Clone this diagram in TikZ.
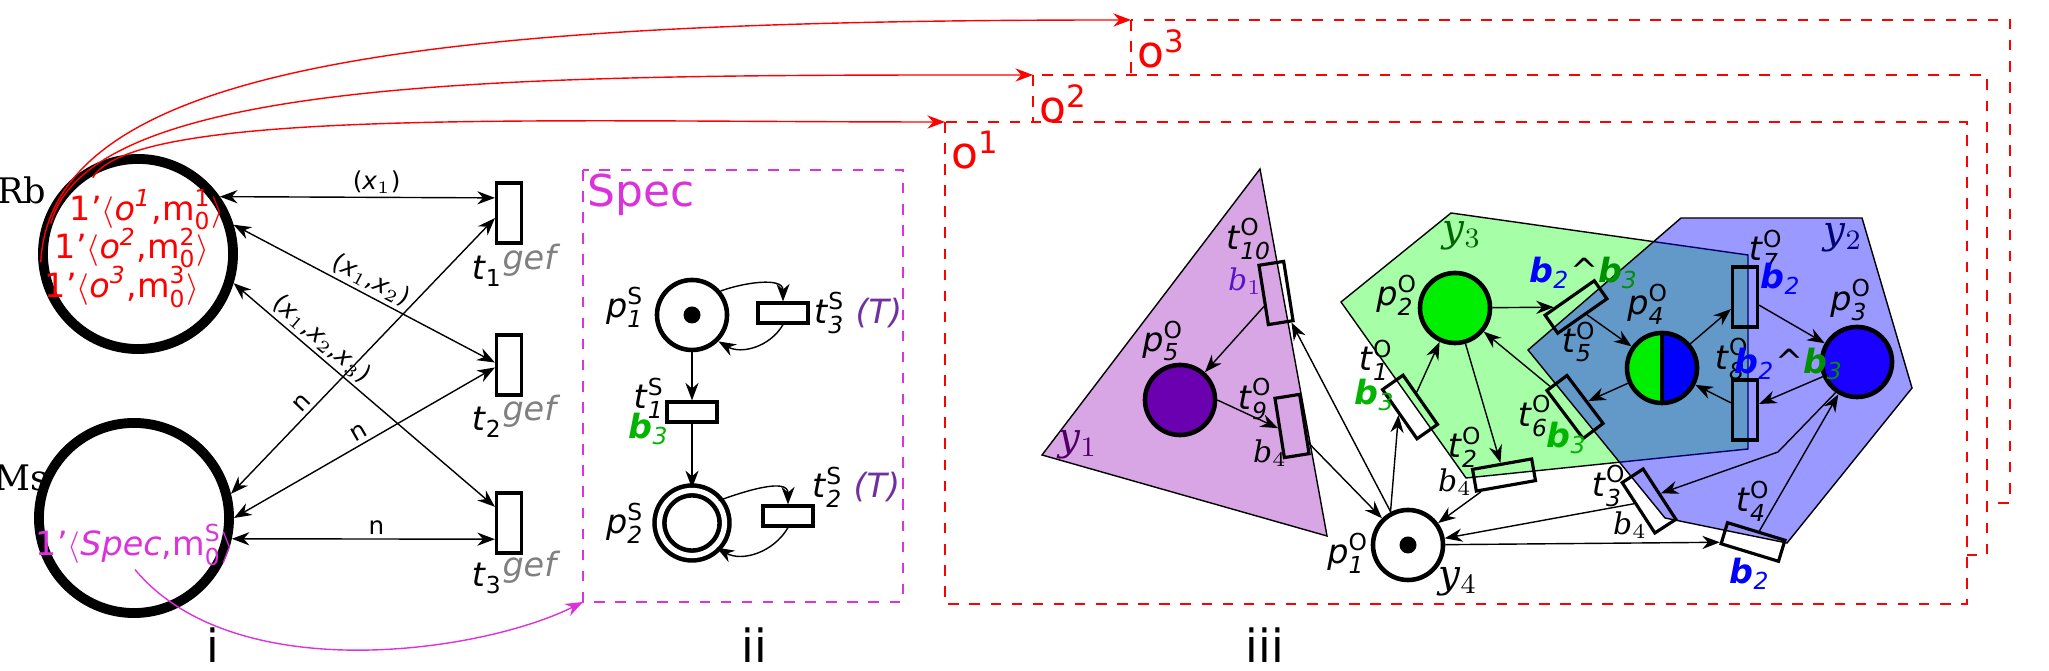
\documentclass[tikz,border=0pt]{standalone}
\usepackage{amsmath}
\usepackage{fontspec}
\setmainfont{DejaVu Sans}
\newfontfamily\serifrm{DejaVu Serif}
\usetikzlibrary{arrows.meta}
\definecolor{specc}{RGB}{220,50,220}
\definecolor{tcol}{RGB}{112,48,160}
\definecolor{bone}{RGB}{90,20,200}
\definecolor{bthree}{RGB}{0,180,0}
\definecolor{btwo}{RGB}{0,0,255}
\definecolor{yone}{RGB}{217,166,229}
\definecolor{ythree}{RGB}{166,255,166}
\definecolor{pfive}{RGB}{106,0,176}
\definecolor{ptwo}{RGB}{0,238,0}
\definecolor{pthree}{RGB}{26,0,255}
\newcommand{\lb}[3]{\textit{#1}$^{\text{#2}}_{\textit{#3}}$}
\newcommand{\gef}[1]{\textit{t}$_{\text{#1}}$\raisebox{3pt}{\textcolor{gray}{\textit{gef}}}}
\newcommand{\bb}[2]{\textcolor{#1}{\textbf{\textit{b}}$_{\textit{#2}}$}}
\newcommand{\bandb}{\bb{btwo}{2}\textasciicircum\bb{bthree!80!black}{3}}
\tikzset{
  place/.style={circle,draw,line width=1.3pt,minimum size=0.7cm,inner sep=0pt},
  bigplace/.style={circle,draw,line width=2.8pt,minimum size=1.9cm,inner sep=0pt},
  trans/.style={rectangle,draw,line width=0.9pt,inner sep=0pt},
  vtrans/.style={trans,minimum width=0.25cm,minimum height=0.6cm},
  htrans/.style={trans,minimum width=0.6cm,minimum height=0.22cm},
  token/.style={circle,fill,inner sep=0pt,minimum size=0.17cm},
  flow/.style={-{Stealth[length=5pt]},thin},
  biflow/.style={{Stealth[length=5pt]}-{Stealth[length=5pt]},thin},
  lbl/.style={inner sep=1pt,font=\fontsize{9.5}{10.5}\selectfont},
  elbl/.style={font=\fontsize{7}{7}\selectfont,inner sep=1pt},
  serlbl/.style={inner sep=1pt,font=\serifrm\itshape\fontsize{8.5}{9}\selectfont},
  obox/.style={draw=red,dashed,line width=0.8pt,fill=white}
}
\begin{document}
\begin{tikzpicture}[x=0.01cm,y=-0.01cm]
  \useasboundingbox (0,0) rectangle (2049,671);

  % object frames
  \coordinate (o3) at (1131,20);
  \coordinate (o2) at (1033,75);
  \coordinate (o1) at (945,122);
  \draw[obox] (o3) rectangle (2010,503);
  \draw[obox] (o2) rectangle (1987,555);
  \draw[obox] (o1) rectangle (1967,604);
  \node[lbl,red,anchor=north west,font=\fontsize{12.5}{12.5}\selectfont] (lo3) at (1133,25) {o$^{\text{3}}$};
  \node[lbl,red,anchor=north west,font=\fontsize{12.5}{12.5}\selectfont] (lo2) at (1035,80) {o$^{\text{2}}$};
  \node[lbl,red,anchor=north west,font=\fontsize{12.5}{12.5}\selectfont] (lo1) at (947,127) {o$^{\text{1}}$};

  % part i
  \node[bigplace] (Rb) at (138,254) {};
  \node[bigplace] (Ms) at (134,518) {};
  \node[lbl,font=\serifrm\fontsize{10}{10}\selectfont] (lRb) at (22,190) {Rb};
  \node[lbl,font=\serifrm\fontsize{10}{10}\selectfont] (lMs) at (22,478) {Ms};
  \node[lbl,red] (tokA) at (147,210) {1'$\langle$\textit{o\textsuperscript{1}},m$^{\text{1}}_{\text{0}}\rangle$};
  \node[lbl,red] (tokB) at (132,248) {1'$\langle$\textit{o\textsuperscript{2}},m$^{\text{2}}_{\text{0}}\rangle$};
  \node[lbl,red] (tokC) at (122,287) {1'$\langle$\textit{o\textsuperscript{3}},m$^{\text{3}}_{\text{0}}\rangle$};
  \node[lbl,specc] (tokS) at (135,545) {1'$\langle$\textit{Spec},m$^{\text{S}}_{\text{0}}\rangle$};

  \node[vtrans] (g1) at (509,213) {};
  \node[vtrans] (g2) at (509,365) {};
  \node[vtrans] (g3) at (509,523) {};
  \node[lbl] (lg1) at (516,265) {\gef{1}};
  \node[lbl] (lg2) at (516,416) {\gef{2}};
  \node[lbl] (lg3) at (516,572) {\gef{3}};

  \draw[biflow] (Rb.35) -- node[elbl,pos=0.57,above,sloped] {(\textit{x}$_{1}$)} (g1.133);
  \draw[biflow] (Rb.17) -- node[elbl,pos=0.5,above,sloped] {(\textit{x}$_{1}$,\textit{x}$_{2}$)} (g2.170);
  \draw[biflow] (Rb.-17) -- node[elbl,pos=0.3,above,sloped] {(\textit{x}$_{1}$,\textit{x}$_{2}$,\textit{x}$_{3}$)} (g3.131);
  \draw[biflow] (Ms.14) -- node[elbl,pos=0.3,above,sloped] {n} (g1.200);
  \draw[biflow] (Ms.0) -- node[elbl,pos=0.5,above,sloped] {n} (g2.190);
  \draw[biflow] (Ms.-12) -- node[elbl,pos=0.55,above,sloped] {n} (g3.229);

  % part ii
  \coordinate (sp) at (583,602);
  \draw[specc,dashed,line width=0.8pt] (583,170) rectangle (903,602);
  \node[lbl,specc,anchor=north west,font=\fontsize{12.5}{12.5}\selectfont] (lSpec) at (583,170) {Spec};
  \node[place] (p1s) at (692,315) {};
  \node[token] at (p1s) {};
  \node[place,double,double distance=1.5pt,minimum size=0.65cm] (p2s) at (692,523) {};
  \node[htrans,minimum width=0.5cm,minimum height=0.2cm] (t1s) at (692,412) {};
  \node[htrans,minimum width=0.5cm,minimum height=0.2cm] (t3s) at (783,313) {};
  \node[htrans,minimum width=0.5cm,minimum height=0.2cm] (t2s) at (788,516) {};
  \node[lbl] (lp1s) at (625,307) {\lb{p}{S}{1}};
  \node[lbl] (lp2s) at (625,523) {\lb{p}{S}{2}};
  \node[lbl] (lt1s) at (649,398) {\lb{t}{S}{1}};
  \node[lbl] (lb1s) at (649,429) {\bb{bthree}{3}};
  \node[lbl,anchor=west] (lt3s) at (810,313) {\lb{t}{S}{3} \textcolor{tcol}{\textit{(T)}}};
  \node[lbl,anchor=west] (lt2s) at (808,487) {\lb{t}{S}{2} \textcolor{tcol}{\textit{(T)}}};
  \draw[flow] (p1s) -- (t1s);
  \draw[flow] (t1s) -- (p2s);
  \draw[flow] (p1s.40) to[out=20,in=90] (t3s.north);
  \draw[flow] (t3s.south) to[out=-120,in=-30] (p1s.-45);
  \draw[flow] (p2s.40) to[out=20,in=90] (t2s.north);
  \draw[flow] (t2s.south) to[out=-120,in=-30] (p2s.-45);

  % links between parts
  \draw[red,flow] (tokA.north west) ++(27,-8) .. controls +(40,-70) and +(-400,0) .. (o1);
  \draw[red,flow] (tokB.north west) .. controls +(40,-150) and +(-500,0) .. (o2);
  \draw[red,flow] (tokC.north west) .. controls +(10,-200) and +(-700,0) .. (o3);
  \draw[specc,flow] (tokS.south) .. controls +(100,120) and +(-100,50) .. (sp);

  % part iii: regions
  \filldraw[fill=yone,draw=black] (1260,169) -- (1327,536) -- (1042,455) -- cycle;
  \filldraw[fill=ythree,draw=black] (1451,213) -- (1748,255) -- (1748,449) -- (1466,478) -- (1341,302) -- cycle;
  \filldraw[fill=blue,fill opacity=0.4,draw=black] (1681,218) -- (1862,218) -- (1912,388) -- (1787,543) -- (1665,518) -- (1528,350) -- cycle;
  \node[serlbl,color={rgb,255:red,80;green,0;blue,100},font=\serifrm\itshape\fontsize{11}{11}\selectfont] (ly1) at (1078,445) {y$_1$};
  \node[serlbl,color={rgb,255:red,0;green,100;blue,0},font=\serifrm\itshape\fontsize{11}{11}\selectfont] (ly3) at (1462,236) {y$_3$};
  \node[serlbl,color={rgb,255:red,0;green,0;blue,120},font=\serifrm\itshape\fontsize{11}{11}\selectfont] (ly2) at (1843,238) {y$_2$};
  \node[serlbl,font=\serifrm\itshape\fontsize{11}{11}\selectfont] (ly4) at (1458,582) {y$_4$};

  % part iii: places
  \node[place] (p1) at (1408,545) {};
  \node[token] at (p1) {};
  \node[place,fill=ptwo] (p2) at (1455,308) {};
  \node[place,fill=pthree] (p3) at (1857,362) {};
  \node[place,fill=pfive] (p5) at (1180,400) {};
  \node[place,path picture={
      \fill[ptwo] (path picture bounding box.north west) rectangle (path picture bounding box.south);
      \fill[btwo] (path picture bounding box.north) rectangle (path picture bounding box.south east);
      \draw[line width=1pt] (path picture bounding box.north) -- (path picture bounding box.south);}] (p4) at (1662,368) {};

  % part iii: transitions
  \node[vtrans,rotate=35] (t1) at (1410,407) {};
  \node[htrans,rotate=10] (t2) at (1504,475) {};
  \node[vtrans,rotate=33] (t3) at (1649,501) {};
  \node[htrans,rotate=-17] (t4) at (1753,542) {};
  \node[htrans,rotate=35] (t5) at (1576,307) {};
  \node[vtrans,rotate=37] (t6) at (1575,407) {};
  \node[vtrans] (t7) at (1745,297) {};
  \node[vtrans] (t8) at (1745,410) {};
  \node[vtrans,rotate=9] (t9) at (1292,426) {};
  \node[vtrans,rotate=9] (t10) at (1276,293) {};

  % part iii: labels
  \node[lbl] (lp1) at (1348,553) {\lb{p}{O}{1}};
  \node[lbl] (lp2) at (1397,295) {\lb{p}{O}{2}};
  \node[lbl] (lp3) at (1851,300) {\lb{p}{O}{3}};
  \node[lbl] (lp4) at (1648,304) {\lb{p}{O}{4}};
  \node[lbl] (lp5) at (1163,341) {\lb{p}{O}{5}};
  \node[lbl] (lt1) at (1376,360) {\lb{t}{O}{1}};
  \node[lbl] (lt2) at (1465,447) {\lb{t}{O}{2}};
  \node[lbl] (lt3) at (1609,486) {\lb{t}{O}{3}};
  \node[lbl] (lt4) at (1753,501) {\lb{t}{O}{4}};
  \node[lbl] (lt5) at (1579,342) {\lb{t}{O}{5}};
  \node[lbl] (lt6) at (1535,416) {\lb{t}{O}{6}};
  \node[lbl] (lt7) at (1766,250) {\lb{t}{O}{7}};
  \node[lbl] (lt8) at (1732,359) {\lb{t}{O}{8}};
  \node[lbl] (lt9) at (1255,399) {\lb{t}{O}{9}};
  \node[lbl] (lt10) at (1249,239) {\lb{t}{O}{10}};
  \node[serlbl,bone] (lb10) at (1245,281) {b$_1$};
  \node[serlbl] (lb9) at (1270,453) {b$_4$};
  \node[serlbl] (lb2) at (1455,482) {b$_4$};
  \node[serlbl] (lb3) at (1630,525) {b$_4$};
  \node[lbl] (lb1) at (1375,395) {\bb{bthree}{3}};
  \node[lbl] (lb6) at (1567,438) {\bb{bthree}{3}};
  \node[lbl] (lb4) at (1750,574) {\bb{btwo}{2}};
  \node[lbl] (lb7) at (1781,279) {\bb{btwo}{2}};
  \node[lbl] (lb5) at (1584,273) {\bandb};
  \node[lbl] (lb8) at (1789,364) {\bandb};

  % part iii: arcs
  \foreach \from/\to in {t1/p2, p2/t2, t2/p1, p2/t5, t5/p4, p4/t6, t6/p2, p4/t7,
                         t7/p3, p3/t8, t8/p4, t4/p3, p1/t4, t3/p1, t10/p5, t9/p1, p1/t10}
    \draw[flow] (\from) -- (\to);
  \draw[flow] (p1.118) -- (t1.west);
  \draw[flow] (p5.east) -- (t9.west);
  \coordinate (bend) at (1778,452);
  \draw[flow] (p3.235) -- (bend) -- (t3.east);

  % part names
  \node[lbl,font=\fontsize{13}{13}\selectfont] (ni) at (213,645) {i};
  \node[lbl,font=\fontsize{13}{13}\selectfont] (nii) at (754,645) {ii};
  \node[lbl,font=\fontsize{13}{13}\selectfont] (niii) at (1265,645) {iii};
\end{tikzpicture}
\end{document}
